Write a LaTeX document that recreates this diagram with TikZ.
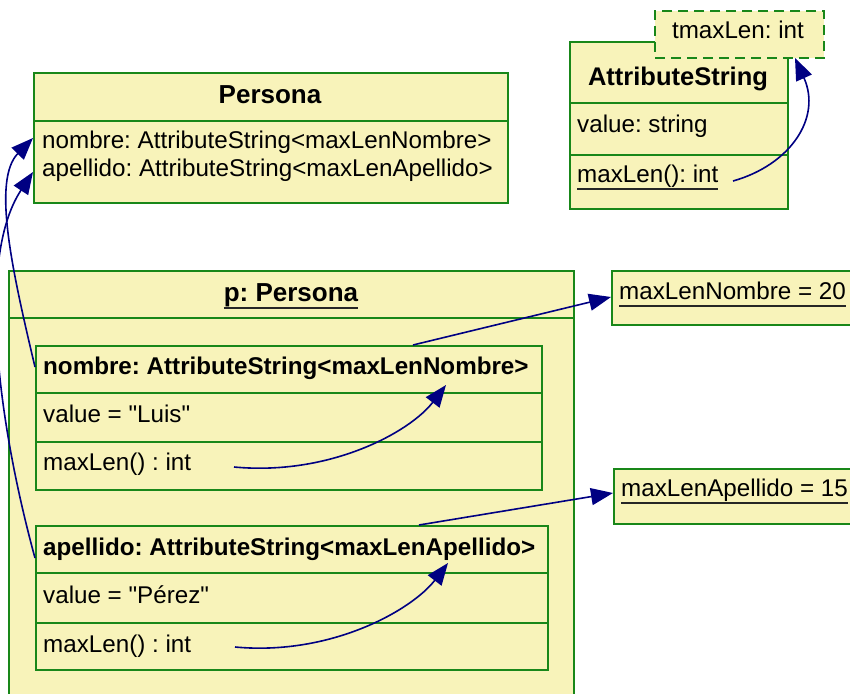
\documentclass[tikz,border=0pt]{standalone}
\usepackage{fontspec}
\setmainfont{Liberation Sans}[Ligatures=TeXOff]
\usetikzlibrary{arrows.meta}
\frenchspacing

\definecolor{umlfill}{RGB}{248,243,186}
\definecolor{umlline}{RGB}{25,135,25}
\definecolor{linkblue}{RGB}{0,0,130}

% underlined text with the rule set a fixed distance below the baseline
\newcommand\ulinetext[1]{\setbox0\hbox{#1}\rlap{\color{black!85}\rule[-7.5pt]{\wd0}{1.2pt}}\box0}

\tikzset{
  box/.style={draw=umlline, fill=umlfill, line width=2pt, inner sep=0pt, anchor=north west},
  dashbox/.style={box, dash pattern=on 10pt off 6pt},
  sep/.style={draw=umlline, line width=2pt},
  lbl/.style={anchor=west, inner sep=0pt, font=\fontsize{24.2}{28}\selectfont, text height=17pt, text depth=5pt},
  blbl/.style={lbl, font=\bfseries\fontsize{24.2}{28}\selectfont},
  ttl/.style={inner sep=0pt, font=\bfseries\fontsize{26}{30}\selectfont, text height=19pt, text depth=5pt},
  link/.style={draw=linkblue, line width=1.6pt, -{Triangle[length=22pt,width=17pt]}},
}

\begin{document}
\begin{tikzpicture}[x=1pt,y=-1pt]
\useasboundingbox (0,0) rectangle (850,693);
\clip (0,0) rectangle (850,693);

% ---------- class Persona ----------
\node[box, minimum width=474pt, minimum height=130pt] (persona) at (33,72) {};
\draw[sep] (33,121) -- (507,121);
\node[ttl] (personaT) at (270,96) {Persona};
\node[lbl] (personaA1) at (42,142) {nombre: AttributeString<maxLenNombre>};
\node[lbl] (personaA2) at (42,170) {apellido: AttributeString<maxLenApellido>};

% ---------- class AttributeString with template parameter ----------
\node[box, minimum width=218pt, minimum height=167pt] (attr) at (569,41) {};
\draw[sep] (569,103) -- (787,103);
\draw[sep] (569,155) -- (787,155);
\node[ttl, font=\bfseries\fontsize{25.5}{30}\selectfont] (attrT) at (678,78) {AttributeString};
\node[lbl] (attrV) at (577,126) {value: string};
\node[lbl] (attrM) at (577,176) {\ulinetext{maxLen(): int}};
\node[dashbox, minimum width=169pt, minimum height=47pt] (tparam) at (654,10) {};
\node[lbl, anchor=center] (tparamT) at (738,33) {tmaxLen: int};

% ---------- object p: Persona ----------
\node[box, minimum width=565pt, minimum height=440pt] (pobj) at (8,270) {};
\draw[sep] (8,318) -- (573,318);
\node[ttl] (pobjT) at (291,294) {\ulinetext{p: Persona}};

% nested object nombre
\node[box, minimum width=506pt, minimum height=144pt] (nobj) at (35,345) {};
\draw[sep] (35,393) -- (541,393);
\draw[sep] (35,442) -- (541,442);
\node[blbl] (nobjT) at (43,368) {nombre: AttributeString<maxLenNombre>};
\node[lbl] (nobjV) at (43,416) {value = "Luis"};
\node[lbl] (nobjM) at (43,464) {maxLen() : int};

% nested object apellido
\node[box, minimum width=512pt, minimum height=144pt] (aobj) at (35,525) {};
\draw[sep] (35,573) -- (547,573);
\draw[sep] (35,623) -- (547,623);
\node[blbl] (aobjT) at (43,549) {apellido: AttributeString<maxLenApellido>};
\node[lbl] (aobjV) at (43,597) {value = "Pérez"};
\node[lbl] (aobjM) at (43,646) {maxLen() : int};

% ---------- bound template values ----------
\node[box, minimum width=260pt, minimum height=54pt] (mln) at (611,270) {};
\node[lbl] (mlnT) at (619,293) {\ulinetext{maxLenNombre = 20}};
\node[box, minimum width=260pt, minimum height=55pt] (mla) at (613,468) {};
\node[lbl] (mlaT) at (621,490) {\ulinetext{maxLenApellido = 15}};

% ---------- connector end points ----------
\coordinate (attrMs) at (733,181);
\coordinate (tparamIn) at (795,58);
\coordinate (nMs) at (234,467);
\coordinate (nTin) at (446,385);
\coordinate (aMs) at (235,647);
\coordinate (aTin) at (448,563);
\coordinate (nTop) at (413,345);
\coordinate (mlnIn) at (611,297);
\coordinate (aTop) at (419,525);
\coordinate (mlaIn) at (613,493);
\coordinate (nLeft) at (35,367);
\coordinate (pA1in) at (33,138);
\coordinate (aLeft) at (35,558);
\coordinate (pA2in) at (33,172);

% ---------- connectors ----------
\draw[link] (attrMs) .. controls (790,165) and (822,118) .. (tparamIn);
\draw[link] (nMs) .. controls (330,476) and (410,432) .. (nTin);
\draw[link] (aMs) .. controls (331,656) and (412,610) .. (aTin);
\draw[link] (nTop) -- (mlnIn);
\draw[link] (aTop) -- (mlaIn);
\draw[link] (nLeft) .. controls (12,270) and (-8,180) .. (pA1in);
\draw[link] (aLeft) .. controls (0,430) and (-25,260) .. (pA2in);
\end{tikzpicture}
\end{document}
